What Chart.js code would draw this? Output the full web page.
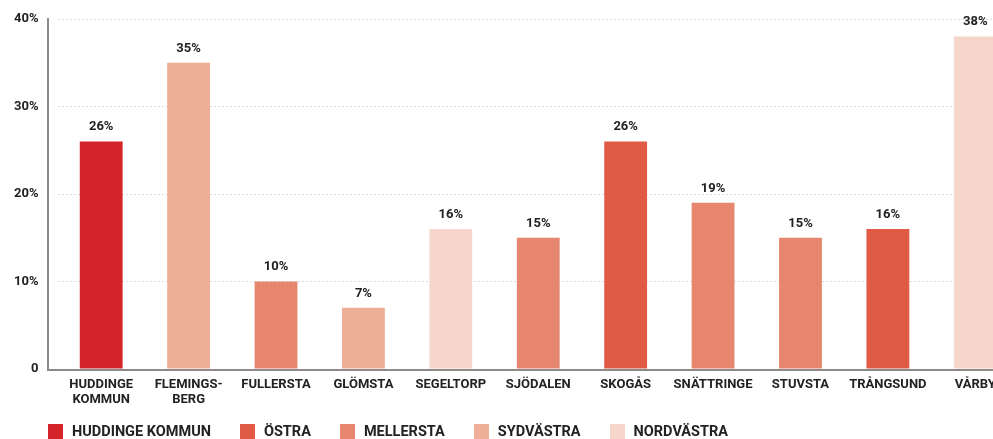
<!DOCTYPE html>
<html>
<head>
<meta charset="utf-8">
<script src="https://cdn.jsdelivr.net/npm/chart.js@4"></script>
<style>
  html, body { margin: 0; padding: 0; background: #fff; overflow: hidden; width: 993px; height: 439px; }
  #wrap { position: absolute; left: 0; top: 0; width: 1019px; height: 439px; }
  #legend { position: absolute; left: 48px; top: 424px; display: flex; align-items: center;
    font-family: Roboto, "DejaVu Sans Condensed", sans-serif; font-weight: bold;
    font-size: 14.5px; line-height: 15px; color: #222; white-space: nowrap; }
  .item { display: flex; align-items: center; margin-right: 29px; }
  .box { width: 15px; height: 15px; margin-right: 9px; }
</style>
</head>
<body>
<div id="wrap"><canvas id="c"></canvas></div>
<div id="legend"></div>
<script>
const categories = [["HUDDINGE", "KOMMUN"], ["FLEMINGS-", "BERG"], "FULLERSTA", "GLÖMSTA", "SEGELTORP", "SJÖDALEN", "SKOGÅS", "SNÄTTRINGE", "STUVSTA", "TRÅNGSUND", "VÅRBY"];
const values = [26, 35, 10, 7, 16, 15, 26, 19, 15, 16, 38];
const categoryRegion = ["HUDDINGE KOMMUN", "SYDVÄSTRA", "MELLERSTA", "SYDVÄSTRA", "NORDVÄSTRA", "MELLERSTA", "ÖSTRA", "MELLERSTA", "MELLERSTA", "ÖSTRA", "NORDVÄSTRA"];
const regions = ["HUDDINGE KOMMUN", "ÖSTRA", "MELLERSTA", "SYDVÄSTRA", "NORDVÄSTRA"];
const regionColors = ["#d52429", "#e05a44", "#e6866f", "#efae98", "#f6d6cb"];
const yTicks = [0, 10, 20, 30, 40];

const FONT = 'Roboto, "DejaVu Sans Condensed", sans-serif';
const colorOf = r => regionColors[regions.indexOf(r)];

const lg = document.getElementById('legend');
regions.forEach((r, i) => {
  const it = document.createElement('div'); it.className = 'item';
  const b = document.createElement('span'); b.className = 'box'; b.style.background = regionColors[i];
  const t = document.createElement('span'); t.textContent = r;
  it.appendChild(b); it.appendChild(t); lg.appendChild(it);
});

const axisPlugin = {
  id: 'axisLines',
  beforeDatasetsDraw(chart) {
    const {ctx, chartArea} = chart;
    const y0 = chart.scales.y.getPixelForValue(0);
    const yTop = chart.scales.y.getPixelForValue(40);
    ctx.save();
    ctx.strokeStyle = '#8e8a8a';
    ctx.lineWidth = 2;
    ctx.beginPath();
    ctx.moveTo(48, yTop - 1);
    ctx.lineTo(48, y0 + 1);
    ctx.lineTo(chartArea.right + 10, y0 + 1);
    ctx.stroke();
    ctx.restore();
  }
};

const labelPlugin = {
  id: 'valueLabels',
  afterDatasetsDraw(chart) {
    const {ctx} = chart;
    const meta = chart.getDatasetMeta(0);
    ctx.save();
    ctx.font = 'bold 13px ' + FONT;
    ctx.fillStyle = '#222';
    ctx.textAlign = 'center';
    ctx.textBaseline = 'bottom';
    meta.data.forEach((bar, i) => {
      ctx.fillText(values[i] + '%', bar.x, bar.y - 8);
    });
    ctx.restore();
  }
};

new Chart(document.getElementById('c'), {
  type: 'bar',
  data: {
    labels: categories,
    datasets: [{
      data: values,
      backgroundColor: categoryRegion.map(colorOf),
      borderWidth: 0,
      barPercentage: 0.49,
      categoryPercentage: 1
    }]
  },
  options: {
    responsive: true,
    maintainAspectRatio: false,
    animation: false,
    layout: { padding: { top: 19, left: 0, right: 0, bottom: 0 } },
    plugins: { legend: { display: false }, tooltip: { enabled: false } },
    scales: {
      x: {
        grid: { display: false, drawTicks: false },
        border: { display: false },
        ticks: { color: '#222', font: { family: FONT, weight: 'bold', size: 13, lineHeight: 1.15 }, padding: 8, maxRotation: 0, autoSkip: false },
        afterFit(s) { s.height = 70; }
      },
      y: {
        min: 0, max: 40,
        afterBuildTicks(s) { s.ticks = yTicks.map(v => ({ value: v })); },
        ticks: { color: '#222', font: { family: FONT, weight: 'bold', size: 13 }, padding: 0,
          callback: v => v === 0 ? '0' : v + '%' },
        grid: { color: '#dcdcdc', drawTicks: true, tickLength: 19, tickColor: 'rgba(0,0,0,0)', lineWidth: 1 },
        border: { display: false, dash: [2, 2] },
        afterFit(s) { s.width = 57.5; }
      }
    }
  },
  plugins: [axisPlugin, labelPlugin]
});
</script>
</body>
</html>
